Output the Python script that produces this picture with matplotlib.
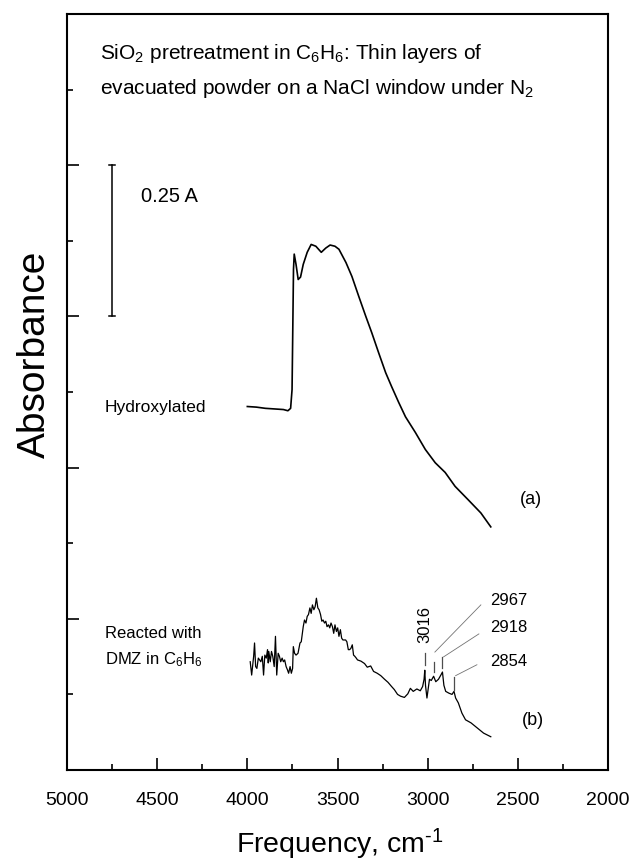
import matplotlib
matplotlib.use('Agg')
import matplotlib.pyplot as plt
from matplotlib.ticker import MultipleLocator, NullFormatter

plt.rcParams['font.family'] = ['Liberation Sans', 'DejaVu Sans']
plt.rcParams['mathtext.fontset'] = 'custom'
plt.rcParams['mathtext.rm'] = 'Liberation Sans'
plt.rcParams['mathtext.it'] = 'Liberation Sans:italic'

# Spectrum (a): hydroxylated
freq_a = [4000, 3950, 3900, 3850, 3800, 3775, 3760, 3752, 3748, 3744, 3740, 3730,
          3718, 3705, 3690, 3668, 3646, 3620, 3590, 3565, 3541, 3514, 3492, 3453,
          3420, 3382, 3343, 3310, 3272, 3233, 3200, 3161, 3123, 3068, 3013, 2958,
          2903, 2848, 2776, 2705, 2650]
abs_a = [0.601, 0.600, 0.598, 0.597, 0.596, 0.594, 0.598, 0.629, 0.728, 0.828, 0.853, 0.836,
         0.811, 0.815, 0.836, 0.856, 0.869, 0.866, 0.856, 0.863, 0.868, 0.866, 0.861, 0.839,
         0.816, 0.783, 0.750, 0.723, 0.690, 0.657, 0.634, 0.608, 0.584, 0.558, 0.530, 0.508,
         0.492, 0.469, 0.447, 0.425, 0.402]

# Spectrum (b): reacted with DMZ in C6H6
freq_b = [3984, 3976, 3965, 3960, 3954, 3947, 3939, 3932, 3925, 3917,
          3910, 3903, 3895, 3888, 3884, 3881, 3873, 3866, 3859, 3851,
          3844, 3837, 3829, 3822, 3815, 3807, 3800, 3793, 3785, 3778,
          3771, 3763, 3756, 3749, 3745, 3738, 3730, 3719, 3708, 3701,
          3690, 3683, 3675, 3668, 3661, 3653, 3646, 3639, 3631, 3624,
          3617, 3609, 3602, 3594, 3587, 3580, 3572, 3565, 3558, 3550,
          3543, 3536, 3528, 3521, 3514, 3506, 3499, 3492, 3484, 3477,
          3470, 3462, 3455, 3448, 3440, 3433, 3426, 3418, 3411, 3404,
          3396, 3389, 3370, 3350, 3335, 3316, 3300, 3280, 3260, 3239,
          3220, 3200, 3185, 3167, 3150, 3129, 3110, 3096, 3080, 3060,
          3041, 3028, 3020, 3016, 3012, 3004, 2990, 2980, 2967, 2955,
          2940, 2925, 2918, 2910, 2900, 2882, 2865, 2854, 2845, 2830,
          2810, 2790, 2760, 2727, 2690, 2650]
abs_b = [0.179, 0.157, 0.188, 0.210, 0.171, 0.168, 0.185, 0.182, 0.179, 0.188,
         0.157, 0.190, 0.185, 0.199, 0.177, 0.196, 0.179, 0.196, 0.188, 0.171,
         0.221, 0.157, 0.193, 0.188, 0.179, 0.185, 0.179, 0.182, 0.171, 0.166,
         0.160, 0.171, 0.160, 0.168, 0.204, 0.193, 0.190, 0.193, 0.210, 0.212,
         0.237, 0.248, 0.243, 0.254, 0.257, 0.268, 0.259, 0.273, 0.265, 0.270,
         0.284, 0.268, 0.265, 0.257, 0.246, 0.248, 0.243, 0.246, 0.237, 0.240,
         0.235, 0.243, 0.237, 0.226, 0.240, 0.229, 0.235, 0.221, 0.232, 0.218,
         0.215, 0.215, 0.215, 0.212, 0.199, 0.199, 0.201, 0.207, 0.190, 0.188,
         0.185, 0.182, 0.180, 0.176, 0.170, 0.172, 0.163, 0.160, 0.156, 0.150,
         0.145, 0.138, 0.133, 0.125, 0.122, 0.120, 0.126, 0.135, 0.130, 0.134,
         0.131, 0.138, 0.150, 0.165, 0.140, 0.119, 0.150, 0.148, 0.155, 0.146,
         0.150, 0.158, 0.162, 0.140, 0.130, 0.127, 0.125, 0.130, 0.119, 0.111,
         0.094, 0.083, 0.078, 0.070, 0.061, 0.055]

# Band assignments marked on (b)
peak_labels = ['3016', '2967', '2918', '2854']
peak_pos = [3016, 2967, 2918, 2854]

fig = plt.figure(figsize=(6.32, 8.65), dpi=100)
ax = fig.add_axes([67/632, 1 - 770/865, (608 - 67)/632, (770 - 14)/865])

ax.plot(freq_a, abs_a, color='black', lw=1.2)
ax.plot(freq_b, abs_b, color='black', lw=0.9)

ax.set_xlim(5000, 2000)
ax.set_ylim(0, 1.25)
ax.xaxis.set_major_locator(MultipleLocator(500))
ax.xaxis.set_minor_locator(MultipleLocator(250))
ax.yaxis.set_major_locator(MultipleLocator(0.25))
ax.yaxis.set_minor_locator(MultipleLocator(0.125))
ax.yaxis.set_major_formatter(NullFormatter())
ax.tick_params(which='both', direction='in', top=False, right=False, width=1.2)
ax.tick_params(which='major', length=8.5, labelsize=14, pad=16)
ax.tick_params(which='minor', length=4.3)
for sp in ax.spines.values():
    sp.set_linewidth(1.5)

ax.set_xlabel('Frequency, cm$^{\\text{-1}}$', fontsize=20.5)
ax.xaxis.set_label_coords(0.505, -0.075)
ax.set_ylabel('Absorbance', fontsize=28)
ax.yaxis.set_label_coords(-0.026, 0.55)

# title text inside the box
ax.text(4815, 1.185, 'SiO$_2$ pretreatment in C$_6$H$_6$: Thin layers of', fontsize=15, va='center')
ax.text(4815, 1.127, 'evacuated powder on a NaCl window under N$_2$', fontsize=15, va='center')

# scale bar
ax.plot([4750, 4750], [0.75, 1.0], color='black', lw=1.1)
ax.plot([4732, 4768], [1.0, 1.0], color='black', lw=1.1)
ax.plot([4732, 4768], [0.75, 0.75], color='black', lw=1.1)
ax.text(4590, 0.949, '0.25 A', fontsize=14.5, va='center')

ax.text(4790, 0.599, 'Hydroxylated', fontsize=12.5, va='center')
ax.text(4790, 0.225, 'Reacted with', fontsize=12, va='center')
ax.text(4790, 0.182, 'DMZ in C$_6$H$_6$', fontsize=12, va='center')
ax.text(2430, 0.447, '(a)', fontsize=13, ha='center', va='center')
ax.text(2418, 0.082, '(b)', fontsize=13, ha='center', va='center')

# peak markers and labels
tick_lo = [0.174, 0.162, 0.169, 0.132]
tick_hi = [0.194, 0.179, 0.187, 0.154]
for p, lo, hi in zip(peak_pos, tick_lo, tick_hi):
    ax.plot([p, p], [lo, hi], color='0.3', lw=0.9)
ax.text(peak_pos[0], 0.240, peak_labels[0], rotation=90, fontsize=12, ha='center', va='center')
lead_start = [(2960, 0.195), (2912, 0.187), (2845, 0.156)]
lead_end = [(2705, 0.273), (2716, 0.225), (2727, 0.174)]
label_y = [0.281, 0.235, 0.179]
for (x0, y0), (x1, y1), lab, ly in zip(lead_start, lead_end, peak_labels[1:], label_y):
    ax.plot([x0, x1], [y0, y1], color='0.45', lw=0.6)
    ax.text(2655, ly, lab, fontsize=12, va='center')

fig.savefig('out.png', dpi=100)
